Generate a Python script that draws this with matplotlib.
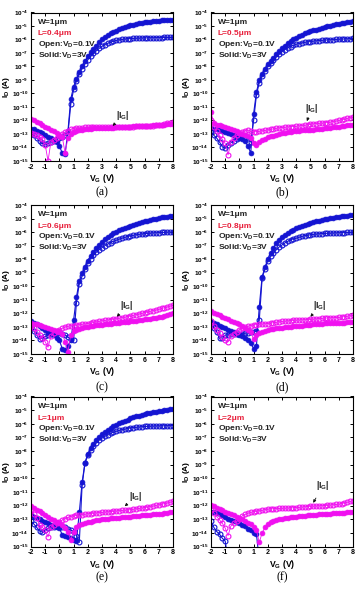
import numpy as np
import matplotlib
matplotlib.use("Agg")
import matplotlib.pyplot as plt

plt.rcParams['font.family'] = ['Liberation Sans', 'DejaVu Sans']
plt.rcParams['font.weight'] = 'bold'
plt.rcParams['mathtext.fontset'] = 'custom'
plt.rcParams['mathtext.rm'] = 'Liberation Sans:bold'
plt.rcParams['mathtext.it'] = 'Liberation Sans:bold'
plt.rcParams['mathtext.bf'] = 'Liberation Sans:bold'

# gate voltage grid (V)
VG = [-2.0, -1.8, -1.6, -1.4, -1.2, -1.0, -0.8, -0.6, -0.4, -0.2,
      0.0, 0.2, 0.4, 0.6, 0.8, 1.0, 1.2, 1.4, 1.6, 1.8,
      2.0, 2.2, 2.4, 2.6, 2.8, 3.0, 3.2, 3.4, 3.6, 3.8,
      4.0, 4.2, 4.4, 4.6, 4.8, 5.0, 5.2, 5.4, 5.6, 5.8,
      6.0, 6.2, 6.4, 6.6, 6.8, 7.0, 7.2, 7.4, 7.6, 7.8, 8.0]

L_labels = ["L=0.4\u03bcm", "L=0.5\u03bcm", "L=0.6\u03bcm", "L=0.8\u03bcm", "L=1\u03bcm", "L=2\u03bcm"]
panel_tags = ["(a)", "(b)", "(c)", "(d)", "(e)", "(f)"]

# log10 of current (A)
a_id_sat = [-12.6, -12.65, -12.75, -12.85, -12.95, -13.05, -13.2, -13.3, -13.45, -13.6,
            -13.9, -14.4, -14.5, -12.8, -10.4, -9.5, -8.9, -8.4, -8.0, -7.6,
            -7.25, -6.95, -6.7, -6.45, -6.2, -6.0, -5.85, -5.7, -5.55, -5.45,
            -5.35, -5.25, -5.15, -5.08, -5.0, -4.95, -4.9, -4.85, -4.8, -4.77,
            -4.74, -4.71, -4.68, -4.65, -4.63, -4.61, -4.59, -4.57, -4.55, -4.53, -4.52]
a_id_lin = [-13.0, -13.1, -13.3, -13.5, -13.7, -13.75, -13.7, -13.6, -13.5, -13.4,
            -13.3, -13.2, -13.1, -13.0, -10.8, -9.7, -9.05, -8.55, -8.15, -7.8,
            -7.5, -7.25, -7.03, -6.84, -6.66, -6.5, -6.38, -6.28, -6.2, -6.13,
            -6.07, -6.03, -6.0, -5.97, -5.95, -5.93, -5.92, -5.91, -5.9, -5.89,
            -5.88, -5.88, -5.87, -5.87, -5.86, -5.86, -5.86, -5.85, -5.85, -5.85, -5.85]
a_ig_sat = [-11.9, -12.0, -12.1, -12.2, -12.3, -12.45, -12.55, -12.7, -12.8, -12.9,
            -13.05, -13.2, -14.4, -13.3, -13.0, -12.85, -12.78, -12.72, -12.68, -12.65,
            -12.62, -12.6, -12.58, -12.57, -12.56, -12.55, -12.55, -12.54, -12.53, -12.52,
            -12.5, -12.49, -12.48, -12.47, -12.46, -12.45, -12.44, -12.43, -12.42, -12.41,
            -12.4, -12.39, -12.38, -12.36, -12.35, -12.34, -12.32, -12.3, -12.28, -12.26, -12.24]
a_ig_lin = [-12.9, -13.0, -13.1, -13.25, -13.4, -13.8, -15.0, -13.6, -13.45, -13.3,
            -13.15, -13.0, -12.85, -12.75, -12.65, -12.6, -12.57, -12.55, -12.53, -12.51,
            -12.5, -12.49, -12.48, -12.47, -12.46, -12.45, -12.45, -12.45, -12.45, -12.45,
            -12.45, -12.45, -12.45, -12.45, -12.45, -12.45, -12.45, -12.44, -12.44, -12.43,
            -12.42, -12.41, -12.4, -12.38, -12.36, -12.34, -12.3, -12.25, -12.2, -12.15, -12.1]

b_id_sat = [-12.55, -12.6, -12.65, -12.7, -12.75, -12.85, -12.9, -13.0, -13.1, -13.2,
            -13.3, -13.4, -13.55, -13.9, -14.4, -11.5, -9.9, -9.0, -8.55, -8.15,
            -7.85, -7.6, -7.35, -7.1, -6.85, -6.65, -6.45, -6.28, -6.12, -5.98,
            -5.88, -5.75, -5.65, -5.55, -5.47, -5.4, -5.33, -5.26, -5.2, -5.14,
            -5.08, -5.03, -4.98, -4.93, -4.88, -4.84, -4.8, -4.76, -4.72, -4.68, -4.65]
b_id_lin = [-12.8, -13.1, -13.3, -13.6, -13.95, -14.05, -13.85, -13.65, -13.5, -13.35,
            -13.2, -13.15, -13.2, -13.3, -13.6, -12.0, -10.1, -9.2, -8.7, -8.3,
            -8.0, -7.75, -7.5, -7.3, -7.1, -6.9, -6.75, -6.62, -6.52, -6.43,
            -6.35, -6.3, -6.25, -6.21, -6.18, -6.15, -6.12, -6.1, -6.08, -6.06,
            -6.05, -6.03, -6.02, -6.01, -6.0, -5.98, -5.97, -5.96, -5.95, -5.93, -5.92]
b_ig_sat = [-11.4, -12.2, -12.3, -12.35, -12.4, -12.5, -12.55, -12.65, -12.7, -12.8,
            -12.9, -13.0, -13.05, -13.15, -13.3, -13.7, -13.8, -13.6, -13.45, -13.35,
            -13.25, -13.18, -13.12, -13.06, -13.0, -12.95, -12.92, -12.88, -12.85, -12.81,
            -12.78, -12.76, -12.74, -12.72, -12.71, -12.7, -12.68, -12.66, -12.64, -12.61,
            -12.58, -12.56, -12.53, -12.5, -12.48, -12.45, -12.43, -12.4, -12.37, -12.34, -12.3]
b_ig_lin = [-12.0, -12.45, -12.8, -13.1, -13.4, -13.7, -14.55, -13.6, -13.3, -13.1,
            -12.95, -12.85, -12.75, -12.7, -12.8, -12.85, -12.82, -12.8, -12.77, -12.73,
            -12.7, -12.66, -12.62, -12.58, -12.55, -12.52, -12.5, -12.48, -12.46, -12.45,
            -12.43, -12.4, -12.38, -12.35, -12.32, -12.28, -12.25, -12.23, -12.21, -12.2,
            -12.18, -12.15, -12.12, -12.08, -12.04, -12.0, -11.95, -11.9, -11.85, -11.8, -11.75]

c_id_sat = [-12.6, -12.7, -12.8, -12.95, -13.05, -13.2, -13.35, -13.5, -13.6, -13.8,
            -14.0, -14.6, -14.7, -14.4, -14.0, -12.5, -10.8, -9.6, -9.05, -8.55,
            -8.1, -7.75, -7.45, -7.2, -6.95, -6.72, -6.52, -6.35, -6.2, -6.08,
            -5.97, -5.87, -5.78, -5.69, -5.6, -5.52, -5.45, -5.38, -5.32, -5.26,
            -5.2, -5.15, -5.1, -5.05, -5.0, -4.96, -4.92, -4.88, -4.85, -4.82, -4.79]
c_id_lin = [-13.1, -13.3, -13.6, -13.9, -13.8, -13.7, -13.6, -13.55, -13.5, -13.45,
            -13.4, -13.5, -13.6, -13.75, -13.9, -13.95, -11.2, -9.8, -9.25, -8.75,
            -8.25, -7.95, -7.7, -7.48, -7.3, -7.15, -7.0, -6.88, -6.77, -6.68,
            -6.6, -6.52, -6.45, -6.39, -6.33, -6.28, -6.24, -6.2, -6.17, -6.14,
            -6.12, -6.1, -6.08, -6.06, -6.05, -6.04, -6.03, -6.02, -6.01, -6.0, -6.0]
c_ig_sat = [-12.7, -12.75, -12.8, -12.87, -12.95, -13.0, -13.07, -13.13, -13.2, -13.27,
            -13.35, -13.5, -14.1, -14.85, -13.6, -13.3, -13.2, -13.12, -13.06, -13.02,
            -12.98, -12.95, -12.92, -12.89, -12.87, -12.85, -12.82, -12.79, -12.76, -12.73,
            -12.7, -12.68, -12.66, -12.64, -12.62, -12.6, -12.57, -12.54, -12.51, -12.48,
            -12.45, -12.42, -12.39, -12.36, -12.33, -12.3, -12.25, -12.2, -12.15, -12.08, -12.0]
c_ig_lin = [-12.9, -13.1, -13.35, -13.6, -13.8, -14.1, -14.5, -13.7, -13.45, -13.3,
            -13.2, -13.1, -13.0, -12.95, -12.92, -12.9, -12.87, -12.84, -12.8, -12.78,
            -12.75, -12.71, -12.67, -12.63, -12.59, -12.55, -12.52, -12.49, -12.46, -12.43,
            -12.4, -12.36, -12.32, -12.28, -12.24, -12.2, -12.15, -12.1, -12.05, -12.0,
            -11.95, -11.9, -11.85, -11.8, -11.75, -11.7, -11.64, -11.58, -11.52, -11.46, -11.4]

d_id_sat = [-12.6, -12.7, -12.8, -12.9, -13.0, -13.1, -13.2, -13.3, -13.4, -13.5,
            -13.6, -13.7, -13.85, -14.0, -14.2, -14.6, -14.4, -11.5, -9.3, -8.6,
            -8.0, -7.55, -7.15, -6.8, -6.55, -6.35, -6.2, -6.06, -5.94, -5.82,
            -5.72, -5.62, -5.53, -5.45, -5.38, -5.32, -5.26, -5.2, -5.15, -5.1,
            -5.05, -5.01, -4.97, -4.93, -4.89, -4.86, -4.83, -4.8, -4.78, -4.76, -4.74]
d_id_lin = [-12.85, -13.1, -13.35, -13.85, -13.8, -13.6, -13.6, -13.55, -13.55, -13.5,
            -13.5, -13.5, -13.45, -13.45, -13.4, -13.4, -13.3, -12.5, -9.4, -8.7,
            -8.1, -7.8, -7.55, -7.3, -7.1, -6.95, -6.8, -6.68, -6.57, -6.5,
            -6.45, -6.38, -6.32, -6.27, -6.23, -6.2, -6.17, -6.15, -6.13, -6.11,
            -6.1, -6.09, -6.08, -6.07, -6.06, -6.05, -6.04, -6.04, -6.03, -6.03, -6.02]
d_ig_sat = [-11.8, -11.95, -12.05, -12.15, -12.25, -12.35, -12.45, -12.55, -12.65, -12.72,
            -12.8, -12.95, -13.1, -13.25, -13.4, -13.9, -13.6, -13.45, -13.35, -13.28,
            -13.22, -13.17, -13.13, -13.1, -13.07, -13.05, -13.02, -13.0, -12.98, -12.96,
            -12.95, -12.93, -12.91, -12.89, -12.87, -12.85, -12.78, -12.77, -12.76, -12.75,
            -12.74, -12.73, -12.72, -12.71, -12.7, -12.7, -12.69, -12.68, -12.67, -12.66, -12.65]
d_ig_lin = [-12.6, -12.9, -13.2, -13.45, -13.75, -14.0, -14.1, -13.7, -13.5, -13.35,
            -13.2, -13.1, -13.02, -12.95, -12.9, -12.85, -12.83, -12.81, -12.79, -12.77,
            -12.75, -12.72, -12.69, -12.66, -12.63, -12.6, -12.58, -12.56, -12.54, -12.52,
            -12.5, -12.49, -12.48, -12.47, -12.46, -12.45, -12.43, -12.41, -12.39, -12.37,
            -12.35, -12.34, -12.33, -12.32, -12.31, -12.3, -12.27, -12.24, -12.21, -12.18, -12.15]

e_id_sat = [-12.7, -12.8, -12.9, -13.0, -13.1, -13.2, -13.3, -13.4, -13.5, -13.58,
            -13.65, -14.15, -14.2, -14.3, -14.4, -14.5, -14.6, -12.5, -10.3, -8.85,
            -8.2, -7.8, -7.45, -7.17, -6.95, -6.76, -6.6, -6.45, -6.32, -6.2,
            -6.08, -5.98, -5.88, -5.78, -5.69, -5.6, -5.53, -5.46, -5.4, -5.34,
            -5.29, -5.24, -5.2, -5.16, -5.12, -5.08, -5.04, -5.01, -4.98, -4.95, -4.92]
e_id_lin = [-13.15, -13.35, -13.6, -13.85, -13.95, -13.8, -13.65, -13.6, -13.55, -13.5,
            -13.5, -13.55, -13.6, -13.7, -13.8, -13.9, -14.2, -14.7, -10.5, -8.9,
            -8.3, -7.95, -7.65, -7.4, -7.2, -7.05, -6.92, -6.8, -6.7, -6.62,
            -6.55, -6.49, -6.44, -6.39, -6.35, -6.3, -6.28, -6.26, -6.24, -6.22,
            -6.2, -6.19, -6.18, -6.17, -6.16, -6.16, -6.15, -6.15, -6.14, -6.14, -6.13]
e_ig_sat = [-12.05, -12.2, -12.3, -12.4, -12.55, -12.7, -12.8, -12.95, -13.05, -13.2,
            -13.3, -13.45, -13.65, -13.9, -14.5, -13.9, -13.6, -13.45, -13.35, -13.28,
            -13.22, -13.17, -13.12, -13.08, -13.04, -13.0, -12.98, -12.96, -12.94, -12.92,
            -12.9, -12.88, -12.86, -12.84, -12.82, -12.8, -12.78, -12.76, -12.74, -12.72,
            -12.7, -12.68, -12.66, -12.64, -12.62, -12.6, -12.58, -12.55, -12.52, -12.49, -12.45]
e_ig_lin = [-12.3, -12.6, -12.9, -13.4, -13.6, -13.8, -14.3, -13.6, -13.4, -13.3,
            -13.2, -13.05, -12.95, -12.87, -12.8, -12.75, -12.72, -12.69, -12.66, -12.63,
            -12.6, -12.58, -12.56, -12.54, -12.52, -12.5, -12.48, -12.46, -12.44, -12.42,
            -12.4, -12.38, -12.36, -12.34, -12.32, -12.3, -12.27, -12.24, -12.21, -12.18,
            -12.15, -12.11, -12.07, -12.03, -11.99, -11.95, -11.9, -11.85, -11.8, -11.75, -11.7]

f_id_sat = [-12.45, -12.5, -12.55, -12.6, -12.7, -12.85, -12.95, -13.05, -13.15, -13.2,
            -13.3, -13.4, -13.5, -13.7, -13.8, -14.0, -14.1, -16.0]
f_id_lin = [-13.15, -13.6, -13.9, -14.1, -14.4, -14.6, -16.0]
f_ig_sat = [-11.95, -12.05, -12.15, -12.25, -12.35, -12.45, -12.55, -12.65, -12.72, -12.8,
            -12.9, -13.0, -13.1, -13.25, -13.35, -13.55, -13.8, -14.7, -14.0, -13.6,
            -13.35, -13.2, -13.1, -13.05, -13.0, -12.95, -12.92, -12.89, -12.86, -12.83,
            -12.8, -12.78, -12.76, -12.74, -12.72, -12.7, -12.68, -12.66, -12.64, -12.62,
            -12.6, -12.59, -12.58, -12.57, -12.56, -12.55, -12.53, -12.51, -12.49, -12.47, -12.45]
f_ig_lin = [-12.3, -12.55, -12.8, -13.05, -13.3, -13.65, -14.2, -13.5, -13.3, -13.15,
            -13.0, -12.75, -12.65, -12.55, -12.5, -12.45, -12.42, -12.38, -12.35, -12.3,
            -12.25, -12.24, -12.23, -12.22, -12.21, -12.2, -12.19, -12.18, -12.17, -12.16,
            -12.15, -12.13, -12.11, -12.09, -12.07, -12.05, -12.04, -12.03, -12.02, -12.01,
            -12.0, -11.98, -11.96, -11.94, -11.92, -11.9, -11.85, -11.8, -11.75, -11.7, -11.65]

# |IG| annotation: (text V, text log I, arrow-tip V, arrow-tip log I)
ig_note = [(4.5, -11.6, 3.75, -12.4), (5.1, -11.1, 4.75, -12.05), (4.75, -11.4, 4.05, -12.25),
           (5.7, -11.4, 5.0, -12.25), (5.35, -11.35, 4.6, -12.05), (5.9, -10.5, 5.2, -11.8)]

panels = [
    (a_id_sat, a_id_lin, a_ig_sat, a_ig_lin),
    (b_id_sat, b_id_lin, b_ig_sat, b_ig_lin),
    (c_id_sat, c_id_lin, c_ig_sat, c_ig_lin),
    (d_id_sat, d_id_lin, d_ig_sat, d_ig_lin),
    (e_id_sat, e_id_lin, e_ig_sat, e_ig_lin),
    (f_id_sat, f_id_lin, f_ig_sat, f_ig_lin),
]

BLUE = '#1414d2'
MAG = '#f010f0'
RED = '#e8203c'

W, H = 358, 594
fig = plt.figure(figsize=(W / 100, H / 100), dpi=100)

col_left = [31, 211]
ax_w = 142
rows = [(12.5, 161), (205, 354), (396.5, 546.5)]

yt = [10.0 ** k for k in range(-15, -3)]
ytl = [r'$10^{%d}$' % k for k in range(-15, -3)]

MS = 3.5

for i, (id_sat, id_lin, ig_sat, ig_lin) in enumerate(panels):
    r, c = divmod(i, 2)
    top, bot = rows[r]
    ax = fig.add_axes([col_left[c] / W, 1 - bot / H, ax_w / W, (bot - top) / H])

    def series(vals):
        v = np.array(VG[:len(vals)])
        return v, 10.0 ** np.array(vals)

    v, y = series(id_lin)
    ax.plot(v, y, '-', color=BLUE, lw=0.8, marker='o', ms=MS, mfc='none', mec=BLUE, mew=0.8)
    v, y = series(id_sat)
    ax.plot(v, y, '-', color=BLUE, lw=0.8, marker='o', ms=MS, mfc=BLUE, mec=BLUE, mew=0.5)
    v, y = series(ig_lin)
    ax.plot(v, y, '-', color=MAG, lw=0.6, marker='o', ms=MS, mfc='none', mec=MAG, mew=0.8)
    v, y = series(ig_sat)
    ax.plot(v, y, '-', color=MAG, lw=0.6, marker='o', ms=MS, mfc=MAG, mec=MAG, mew=0.5)

    ax.set_yscale('log')
    ax.set_xlim(-2, 8)
    ax.set_ylim(1e-15, 1e-4)
    ax.set_xticks(range(-2, 9))
    ax.set_xticklabels([str(k) for k in range(-2, 9)])
    ax.set_yticks(yt)
    ax.set_yticklabels(ytl)
    ax.minorticks_off()
    ax.tick_params(axis='both', which='major', direction='in', top=True, right=True,
                   length=2.5, width=0.7, pad=2.0)
    ax.tick_params(axis='x', labelsize=5.0)
    ax.tick_params(axis='y', labelsize=4.6)
    for s in ax.spines.values():
        s.set_linewidth(0.8)

    ax.set_xlabel(r'V$_\mathrm{G}$ (V)', fontsize=6.2, fontweight='bold', labelpad=1.0)
    ax.set_ylabel(r'I$_\mathrm{D}$ (A)', fontsize=6.0, fontweight='bold', va='center')
    ax.yaxis.set_label_coords(-0.172, 0.5)

    tx = 0.047
    fs = 6.0
    ax.text(tx, 0.935, 'W=1\u03bcm', transform=ax.transAxes, fontsize=fs, fontweight='bold',
            color='#222222', va='center', ha='left')
    ax.text(tx, 0.856, L_labels[i], transform=ax.transAxes, fontsize=fs, fontweight='bold',
            color=RED, va='center', ha='left')
    ax.text(tx, 0.787, r'Open:V$_\mathrm{D}$=0.1V', transform=ax.transAxes, fontsize=fs,
            fontweight='bold', color='#222222', va='center', ha='left')
    ax.text(tx, 0.71, r'Solid:V$_\mathrm{D}$=3V', transform=ax.transAxes, fontsize=fs,
            fontweight='bold', color='#222222', va='center', ha='left')

    txv, txl, arv, arl = ig_note[i]
    ax.annotate(r'$\mathbf{|I_G|}$', xy=(arv, 10.0 ** arl), xytext=(txv, 10.0 ** txl),
                fontsize=6.3, ha='center', va='center', color='#222222',
                arrowprops=dict(arrowstyle='-|>', color='#111111', lw=0.6,
                                mutation_scale=4, shrinkA=3, shrinkB=0))

    cx = (col_left[c] + ax_w / 2) / W
    ty = {0: 192, 1: 387, 2: 577}[r]
    fig.text(cx, 1 - ty / H, panel_tags[i], fontsize=8.5, family='Liberation Serif',
             fontweight='normal', ha='center', va='center')

fig.savefig('out.png', dpi=100)
